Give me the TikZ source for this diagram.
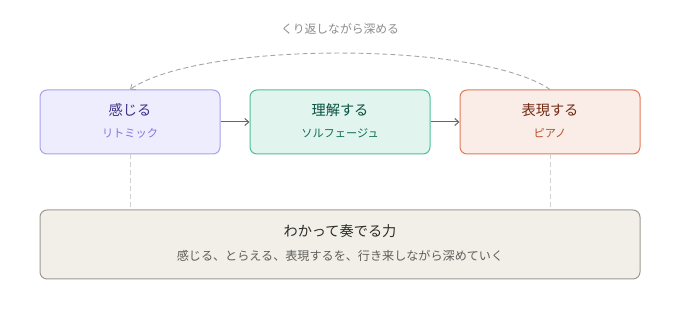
\documentclass[tikz,border=0pt]{standalone}
\usepackage{fontspec}
\setmainfont{Noto Sans CJK JP}
\usetikzlibrary{arrows.meta}
\definecolor{kanjiFill}{HTML}{EEEDFE}
\definecolor{kanjiLine}{HTML}{A9A2EA}
\definecolor{kanjiHead}{HTML}{3C3489}
\definecolor{kanjiSub}{HTML}{7F77DD}
\definecolor{rikaiFill}{HTML}{E1F5EE}
\definecolor{rikaiLine}{HTML}{4FBF98}
\definecolor{rikaiHead}{HTML}{085041}
\definecolor{rikaiSub}{HTML}{0F6E56}
\definecolor{hyogenFill}{HTML}{FAECE7}
\definecolor{hyogenLine}{HTML}{E27A5A}
\definecolor{hyogenHead}{HTML}{712B13}
\definecolor{hyogenSub}{HTML}{B5512E}
\definecolor{kanadeFill}{HTML}{F1EFE8}
\definecolor{kanadeLine}{HTML}{9C9A92}
\definecolor{kanadeHead}{HTML}{2C2C2A}
\definecolor{kanadeSub}{HTML}{5F5E5A}
\begin{document}
\begin{tikzpicture}[x=1pt, y=-1pt,
  box/.style={rectangle, rounded corners=7pt, draw, line width=1pt, minimum width=180pt, minimum height=64pt, inner sep=0pt},
  head/.style={font=\fontsize{14.2}{16}\selectfont, inner sep=0pt},
  sub/.style={font=\fontsize{11.2}{13}\selectfont, inner sep=0pt},
  flow/.style={draw=black!60, line width=1pt, -{Straight Barb[length=4pt, width=7pt]}},
  loop/.style={draw=black!35, dash pattern=on 5pt off 3pt, line width=0.9pt, -{Straight Barb[length=4pt, width=7pt]}},
  tie/.style={draw=black!18, dash pattern=on 5pt off 3pt, line width=0.8pt}]
\useasboundingbox (0,0) rectangle (680,320);
\node[box, fill=kanjiFill, draw=kanjiLine] (kanji) at (130,122) {};
\node[box, fill=rikaiFill, draw=rikaiLine] (rikai) at (340,122) {};
\node[box, fill=hyogenFill, draw=hyogenLine] (hyogen) at (550,122) {};
\node[box, fill=kanadeFill, draw=kanadeLine, minimum width=600pt, minimum height=69pt] (kanade) at (340,244.5) {};
\node[head, text=kanjiHead] (kanjiT) at (130,110) {感じる};
\node[sub, text=kanjiSub] (kanjiS) at (130,133) {リトミック};
\node[head, text=rikaiHead] (rikaiT) at (340,110) {理解する};
\node[sub, text=rikaiSub] (rikaiS) at (340,133) {ソルフェージュ};
\node[head, text=hyogenHead] (hyogenT) at (550,110) {表現する};
\node[sub, text=hyogenSub] (hyogenS) at (550,133) {ピアノ};
\node[head, text=kanadeHead] (kanadeT) at (340,231) {わかって奏でる力};
\node[sub, text=kanadeSub, font=\fontsize{12.1}{14}\selectfont] (kanadeS) at (340,256) {感じる、とらえる、表現するを、行き来しながら深めていく};
\node[sub, text=black!45, font=\fontsize{11.8}{14}\selectfont] (loopT) at (340,29) {くり返しながら深める};
\draw[flow] (kanji) -- (rikai);
\draw[flow] (rikai) -- (hyogen);
\draw[loop] (hyogen.north) .. controls (480,41) and (200,41) .. (kanji.north);
\draw[tie] (kanji.south) -- (kanji.south |- kanade.north);
\draw[tie] (hyogen.south) -- (hyogen.south |- kanade.north);
\end{tikzpicture}
\end{document}
